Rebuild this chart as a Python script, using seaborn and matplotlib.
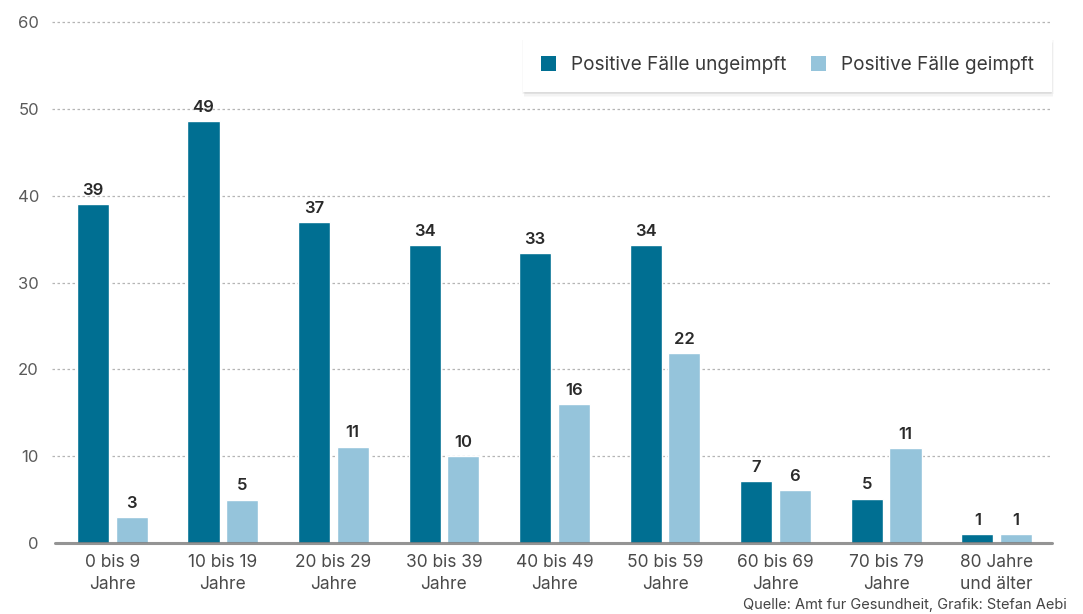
import matplotlib
matplotlib.use("Agg")
import matplotlib.pyplot as plt
import matplotlib.patheffects as pe
from matplotlib.patches import Patch
import seaborn as sns
import pandas as pd

categories = ["0 bis 9\nJahre", "10 bis 19\nJahre", "20 bis 29\nJahre", "30 bis 39\nJahre",
              "40 bis 49\nJahre", "50 bis 59\nJahre", "60 bis 69\nJahre", "70 bis 79\nJahre",
              "80 Jahre\nund älter"]
ungeimpft = [39.0, 48.6, 37.0, 34.3, 33.4, 34.3, 7.1, 5.1, 1.0]
geimpft = [3.0, 5.0, 11.1, 10.0, 16.0, 21.9, 6.1, 10.9, 1.0]
labels_ungeimpft = ["39", "49", "37", "34", "33", "34", "7", "5", "1"]
labels_geimpft = ["3", "5", "11", "10", "16", "22", "6", "11", "1"]
series_names = ["Positive Fälle ungeimpft", "Positive Fälle geimpft"]
yticks = [0, 10, 20, 30, 40, 50, 60]

sns.set_style("white")
plt.rcParams['font.family'] = ['Inter', 'DejaVu Sans']

df = pd.DataFrame({
    "Kategorie": categories * 2,
    "Wert": ungeimpft + geimpft,
    "Serie": [series_names[0]] * len(categories) + [series_names[1]] * len(categories),
})

dark = "#006f92"
light = "#95c4db"

fig = plt.figure(figsize=(10.83, 6.14), dpi=100)
ax = fig.add_axes([0.0526, 0.1156, 0.9188, 0.8485])

sns.barplot(data=df, x="Kategorie", y="Wert", hue="Serie", palette=[dark, light],
            width=0.70, gap=0.17, ax=ax, legend=False, saturation=1)

ax.set_ylim(0, 60)
ax.set_xlim(-0.5, len(categories) - 0.5)
ax.set_yticks(yticks)
ax.set_yticklabels([str(t) for t in yticks], color="#5a5a5a", fontsize=12)
ax.tick_params(axis="y", length=0, pad=13)
ax.tick_params(axis="x", length=0, pad=8, labelsize=12.5, labelcolor="#4a4a4a")
for t in ax.get_xticklabels():
    t.set_linespacing(1.4)
ax.set_xlabel("")
ax.set_ylabel("")
for s in ax.spines.values():
    s.set_visible(False)

for y in yticks[1:]:
    ax.axhline(y, color="#b5b5b5", lw=0.9, ls=(0, (2, 2)), zorder=0, xmin=-0.005, clip_on=False)
ax.axhline(0, color="#7a7a7a", lw=2.2, alpha=0.8, zorder=5, xmin=-0.002, clip_on=False)

for container, labs in zip(ax.containers, [labels_ungeimpft, labels_geimpft]):
    ax.bar_label(container, labels=labs, padding=4.5, fontsize=12, fontweight="semibold", color="#2a2a2a")

# Legend
handles = [Patch(facecolor=dark, edgecolor="none"), Patch(facecolor=light, edgecolor="none")]
leg = ax.legend(handles, series_names, loc="upper right", bbox_to_anchor=(1.0, 0.969),
                borderaxespad=0, ncol=2, frameon=True, fancybox=False, shadow=False,
                framealpha=1, prop={"size": 13.7},
                handlelength=0.8, handleheight=0.8, handletextpad=0.8, columnspacing=1.25,
                borderpad=0.95, labelcolor="#3a3a3a")
frame = leg.get_frame()
frame.set_edgecolor("none")
frame.set_facecolor("white")
shadows = [pe.SimplePatchShadow(offset=(dx, dy), alpha=0.035, shadow_rgbFace="#555555")
           for dx, dy in [(0, -0.5), (0, -1.5), (0.5, -2.5), (1, -3.5), (-0.5, -1), (1.5, -1)]]
frame.set_path_effects(shadows + [pe.Normal()])

fig.text(0.985, 0.004, "Quelle: Amt fur Gesundheit, Grafik: Stefan Aebi", ha="right", va="bottom",
         fontsize=10.5, color="#444444")

fig.savefig("out.png", dpi=100, facecolor="white")
